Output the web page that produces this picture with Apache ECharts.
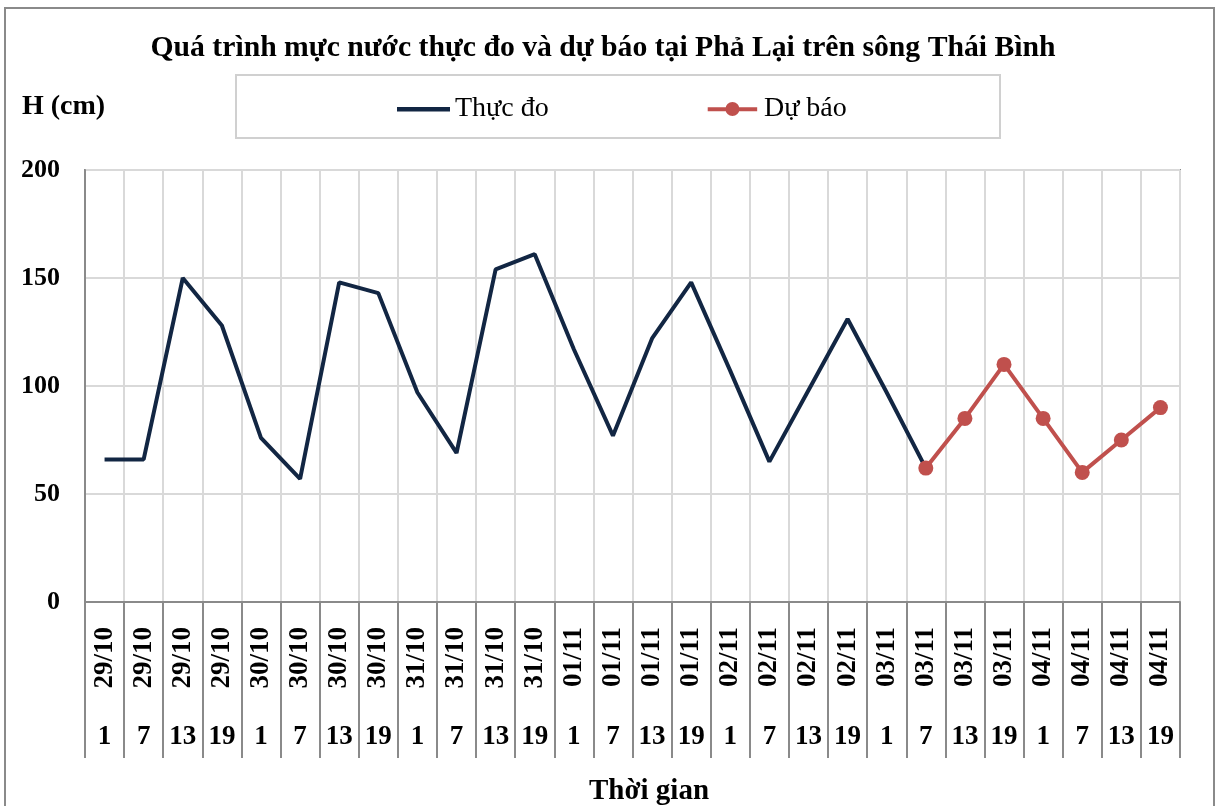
<!DOCTYPE html>
<html><head><meta charset="utf-8">
<script src="https://cdn.jsdelivr.net/npm/echarts@6/dist/echarts.min.js"></script>
<style>html,body{margin:0;padding:0;background:#fff}#c{width:1217px;height:806px}</style>
</head><body><div id="c"></div>
<script>
const dates = ['29/10','29/10','29/10','29/10','30/10','30/10','30/10','30/10','31/10','31/10','31/10','31/10','01/11','01/11','01/11','01/11','02/11','02/11','02/11','02/11','03/11','03/11','03/11','03/11','04/11','04/11','04/11','04/11'];
const hours = ['1','7','13','19','1','7','13','19','1','7','13','19','1','7','13','19','1','7','13','19','1','7','13','19','1','7','13','19'];
const measured = [66,66,150,128,76,57,148,143,97,69,154,161,117,77,122,148,107,65,98,131,97,62,null,null,null,null,null,null];
const forecast = [null,null,null,null,null,null,null,null,null,null,null,null,null,null,null,null,null,null,null,null,null,62,85,110,85,60,75,90];
const yTicks = [0,50,100,150,200];

const FONT = "'Liberation Serif','Times New Roman',serif";
const categories = dates.map((d,i)=>d+'|'+hours[i]);
const lineIcon = 'path://M0,0M53,14M0,5h53v4.5h-53z';
const dotLineIcon = 'path://M0,0M53,14M0,5h53v4.5h-53zM19,7a7.5,7.5 0 1,1 15,0a7.5,7.5 0 1,1 -15,0z';
const chart = echarts.init(document.getElementById('c'));
chart.setOption({
  animation:false,
  backgroundColor:'#fff',
  textStyle:{fontFamily:FONT},
  title:[
    {text:'Quá trình mực nước thực đo và dự báo tại Phả Lại trên sông Thái Bình', left:598, textAlign:'center', top:28,
     textStyle:{fontFamily:FONT,fontSize:29.7,fontWeight:'bold',color:'#000'}},
    {text:'H (cm)', left:17, top:88, textStyle:{fontFamily:FONT,fontSize:28,fontWeight:'bold',color:'#000'}},
    {text:'Thời gian', left:644, textAlign:'center', top:772, textStyle:{fontFamily:FONT,fontSize:29,fontWeight:'bold',color:'#000'}}
  ],
  graphic:[
    {type:'rect', shape:{x:5,y:8,width:1209,height:820}, style:{fill:'none',stroke:'#8a8a8a',lineWidth:2}, silent:true},
    {type:'rect', shape:{x:236,y:75,width:764,height:63}, style:{fill:'none',stroke:'#d0d0d0',lineWidth:2}, silent:true}
  ],
  legend:{
    left:392, top:90, itemGap:159, itemWidth:53, itemHeight:14,
    textStyle:{fontFamily:FONT,fontSize:28,color:'#000'},
    data:[{name:'Thực đo',icon:lineIcon},{name:'Dự báo',icon:dotLineIcon}]
  },
  grid:{left:85,right:37,top:170,bottom:204,show:true,borderColor:'#8a8a8a',borderWidth:2},
  xAxis:[
    {type:'category', data:categories, boundaryGap:true,
     axisLine:{show:true,lineStyle:{color:'#8a8a8a',width:2}},
     axisTick:{show:true,interval:0,length:156,lineStyle:{color:'#8a8a8a',width:2}},
     splitLine:{show:true,interval:0,lineStyle:{color:'#d9d9d9',width:2}},
     axisLabel:{interval:0,rotate:90,margin:25,fontFamily:FONT,fontSize:27,fontWeight:'bold',color:'#000',
       formatter:(v)=>v.split('|')[0]}},
    {type:'category', data:categories, boundaryGap:true, position:'bottom',
     axisLine:{show:false}, axisTick:{show:false}, splitLine:{show:false},
     axisLabel:{interval:0,margin:122,fontFamily:FONT,fontSize:27,fontWeight:'bold',color:'#000',
       formatter:(v)=>v.split('|')[1]}}
  ],
  yAxis:{type:'value', min:yTicks[0], max:yTicks[yTicks.length-1], interval:50,
    axisLine:{show:true,lineStyle:{color:'#8a8a8a',width:2}},
    axisTick:{show:false},
    splitLine:{show:true,lineStyle:{color:'#d9d9d9',width:2}},
    axisLabel:{margin:25,fontFamily:FONT,fontSize:26,fontWeight:'bold',color:'#000'}},
  series:[
    {name:'Thực đo', type:'line', data:measured, symbol:'none', connectNulls:false,
     lineStyle:{color:'#122643',width:4}, itemStyle:{color:'#122643'}},
    {name:'Dự báo', type:'line', data:forecast, symbol:'circle', symbolSize:15,
     lineStyle:{color:'#c0504d',width:4}, itemStyle:{color:'#c0504d'}}
  ]
});
</script></body></html>
